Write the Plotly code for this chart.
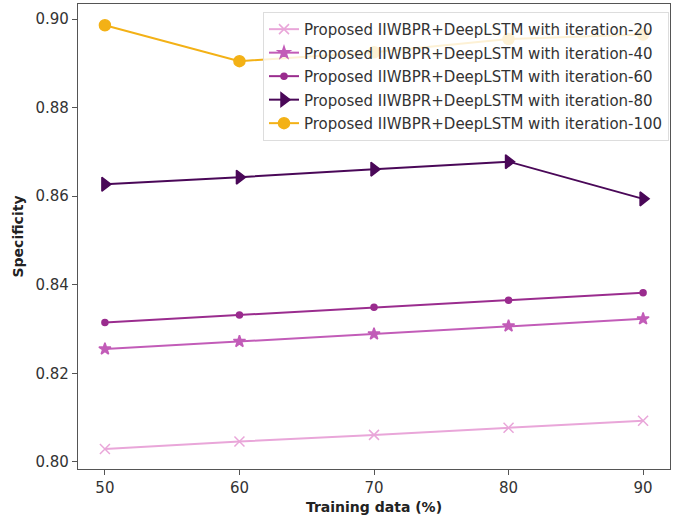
import plotly.graph_objects as go

training = [50, 60, 70, 80, 90]
it20 = [0.8029, 0.8046, 0.8061, 0.8077, 0.8093]
it40 = [0.8255, 0.8272, 0.8289, 0.8307, 0.8323]
it60 = [0.8315, 0.8332, 0.8349, 0.8365, 0.8382]
it80 = [0.8627, 0.8643, 0.8661, 0.8678, 0.8594]
it100 = [0.8986, 0.8905, 0.8925, 0.8955, 0.8965]

names = ["Proposed IIWBPR+DeepLSTM with iteration-20",
         "Proposed IIWBPR+DeepLSTM with iteration-40",
         "Proposed IIWBPR+DeepLSTM with iteration-60",
         "Proposed IIWBPR+DeepLSTM with iteration-80",
         "Proposed IIWBPR+DeepLSTM with iteration-100"]
series = [it20, it40, it60, it80, it100]
colors = ["#e9a6d9", "#c25cb8", "#9a2c8e", "#4a0858", "#f3b116"]
symbols = ["x-thin-open", "star", "circle", "triangle-right", "circle"]
sizes = [10, 9, 6, 12, 11]

fig = go.Figure()
for i, (n, s, c, sym, sz) in enumerate(zip(names, series, colors, symbols, sizes)):
    fig.add_trace(go.Scatter(
        x=training, y=s, name=n, mode="lines+markers", legendgroup=f"g{i}",
        line=dict(color=c, width=2),
        marker=dict(symbol=sym, size=sz, color=c, line=dict(color=c, width=1.5)),
    ))

axis_common = dict(
    showline=True, linecolor="#555", linewidth=1.2, mirror=True,
    ticks="outside", ticklen=5, tickcolor="#555", tickwidth=1.2,
    showgrid=False, zeroline=False,
    tickfont=dict(family="DejaVu Sans", size=15, color="#333"),
)

fig.update_layout(
    width=685, height=521,
    margin=dict(l=78, r=15, t=4, b=52),
    plot_bgcolor="white", paper_bgcolor="white",
    xaxis=dict(range=[48, 92], tickvals=training,
               title=dict(text="<b>Training data (%)</b>", standoff=6,
                          font=dict(family="DejaVu Sans", size=14, color="#222")),
               **axis_common),
    yaxis=dict(range=[0.7984, 0.9034], tickvals=[0.80, 0.82, 0.84, 0.86, 0.88, 0.90],
               tickformat=".2f",
               title=dict(text="<b>Specificity</b>", standoff=8,
                          font=dict(family="DejaVu Sans", size=14, color="#222")),
               **axis_common),
    legend=dict(x=0.3125, y=0.983, xanchor="left", yanchor="top",
                bgcolor="rgba(255,255,255,0.82)", bordercolor="#ddd", borderwidth=1,
                font=dict(family="DejaVu Sans", size=15, color="#333"),
                traceorder="grouped", tracegroupgap=1, itemwidth=30),
    showlegend=True,
)

fig.write_html("out.html")
